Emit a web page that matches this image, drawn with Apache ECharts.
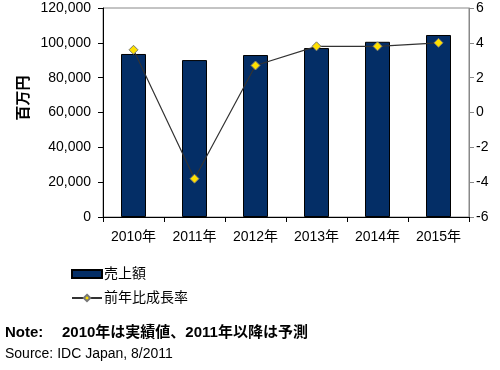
<!DOCTYPE html>
<html><head><meta charset="utf-8">
<script src="https://cdn.jsdelivr.net/npm/echarts@6/dist/echarts.min.js"></script>
<style>html,body{margin:0;padding:0;background:#fff}#c{width:500px;height:370px}</style>
</head><body><div id="c"></div>
<script>
const categories = ['2010年','2011年','2012年','2013年','2014年','2015年'];
const sales = [93600, 90100, 93000, 97000, 100600, 104500];
const growth = [3.6, -3.8, 2.7, 3.8, 3.8, 4.0];
const leftTicks = {min: 0, max: 120000, interval: 20000};
const rightTicks = {min: -6, max: 6, interval: 2};
const seriesNames = ['売上額', '前年比成長率'];
const yName = '百万円';
const noteLabel = 'Note:';
const noteText = '2010年は実績値、2011年以降は予測';
const sourceText = 'Source: IDC Japan, 8/2011';

const FONT = '"Liberation Sans", Arial, "Noto Sans CJK JP", sans-serif';
const chart = echarts.init(document.getElementById('c'));
chart.setOption({
  animation: false,
  textStyle: {fontFamily: FONT},
  grid: {left: 103, right: 31, top: 8, bottom: 153, show: true, borderColor: '#888', borderWidth: 1},
  legend: {
    orient: 'vertical', left: 66, top: 262, itemGap: 10,
    itemWidth: 30, itemHeight: 8,
    textStyle: {fontSize: 14, color: '#000', fontFamily: FONT, padding: [0, 0, 0, -3]},
    data: [{name: seriesNames[0], icon: 'rect'}, {name: seriesNames[1]}]
  },
  xAxis: {
    type: 'category', data: categories,
    axisLine: {lineStyle: {color: '#000'}},
    axisTick: {show: true, alignWithLabel: false, length: 5, lineStyle: {color: '#000'}},
    axisLabel: {fontSize: 14, color: '#000', margin: 13}
  },
  yAxis: [{
    type: 'value', min: leftTicks.min, max: leftTicks.max, interval: leftTicks.interval,
    axisLine: {show: true, lineStyle: {color: '#000'}},
    axisTick: {show: true, length: 5, lineStyle: {color: '#000'}},
    splitLine: {show: false},
    axisLabel: {fontSize: 14, color: '#000', margin: 12,
      formatter: v => v.toLocaleString('en-US')}
  }, {
    type: 'value', min: rightTicks.min, max: rightTicks.max, interval: rightTicks.interval,
    position: 'right',
    axisLine: {show: true, lineStyle: {color: '#888'}},
    axisTick: {show: true, length: 5, lineStyle: {color: '#888'}},
    splitLine: {show: false},
    axisLabel: {fontSize: 14, color: '#000', margin: 7}
  }],
  series: [{
    name: seriesNames[0], type: 'bar', data: sales, barWidth: 25,
    itemStyle: {color: '#042E66', borderColor: '#000', borderWidth: 1}
  }, {
    name: seriesNames[1], type: 'line', yAxisIndex: 1, data: growth,
    symbol: 'diamond', symbolSize: 9,
    lineStyle: {color: '#333', width: 1.2},
    itemStyle: {color: '#FFE000', borderColor: '#777', borderWidth: 1}
  }],
  graphic: [
    {type: 'text', x: 24, y: 98, rotation: Math.PI / 2,
      style: {text: yName, font: 'bold 15px ' + FONT, fill: '#000', align: 'center', verticalAlign: 'middle'}},
    {type: 'text', left: 5, top: 325, style: {text: noteLabel, font: 'bold 15px ' + FONT, fill: '#000'}},
    {type: 'text', left: 62, top: 325, style: {text: noteText, font: 'bold 15px ' + FONT, fill: '#000'}},
    {type: 'text', left: 5, top: 347, style: {text: sourceText, font: '14px ' + FONT, fill: '#000'}}
  ]
});
</script></body></html>
